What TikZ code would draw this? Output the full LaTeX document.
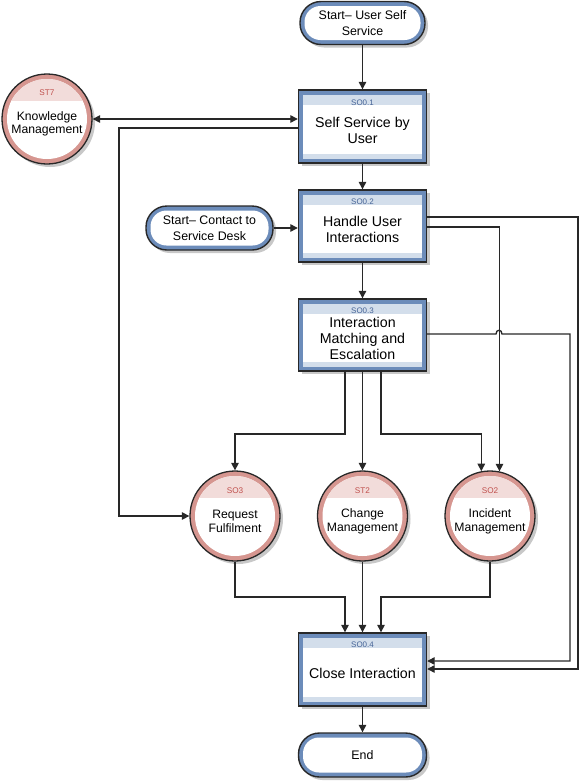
\documentclass[tikz,border=0pt]{standalone}
\usepackage{fontspec}
\setmainfont{Liberation Sans}
\usetikzlibrary{shadows,arrows.meta}
\definecolor{frameblue}{RGB}{108,140,186}
\definecolor{hdrblue}{RGB}{211,222,235}
\definecolor{lblblue}{RGB}{70,100,150}
\definecolor{ringpink}{RGB}{214,150,144}
\definecolor{hdrpink}{RGB}{242,220,218}
\definecolor{lblred}{RGB}{192,80,77}
\definecolor{linedark}{RGB}{40,40,40}
\definecolor{shadowgrey}{RGB}{200,200,200}
\tikzset{
  shd/.style={drop shadow={shadow xshift=3pt,shadow yshift=-3pt,fill=shadowgrey,opacity=1}},
  procbox/.style={rectangle, draw=linedark, line width=1.4pt, fill=frameblue,
    minimum width=128pt, minimum height=72pt, inner sep=0pt, shd,
    path picture={
      \fill[white] ([shift={(4.5pt,4.5pt)}]path picture bounding box.south west) rectangle ([shift={(-4.5pt,-4.5pt)}]path picture bounding box.north east);
      \fill[hdrblue] ([shift={(4.5pt,-4.5pt)}]path picture bounding box.north west) rectangle ([shift={(-4.5pt,-15pt)}]path picture bounding box.north east);
      \fill[hdrblue] ([shift={(4.5pt,4.5pt)}]path picture bounding box.south west) rectangle ([shift={(-4.5pt,9pt)}]path picture bounding box.south east);
    }},
  circ/.style={circle, draw=linedark, line width=1.3pt, fill=ringpink,
    minimum size=90pt, inner sep=0pt, shd,
    path picture={
      \fill[white] (path picture bounding box.center) circle[radius=40pt];
      \begin{scope}
        \clip (path picture bounding box.center) circle[radius=40pt];
        \fill[hdrpink] ([shift={(-50pt,18pt)}]path picture bounding box.center) rectangle ([shift={(50pt,50pt)}]path picture bounding box.center);
      \end{scope}
    }},
  term/.style={rectangle, rounded corners=21pt, draw=linedark, line width=1.4pt, fill=frameblue,
    minimum width=127pt, minimum height=44pt, inner sep=0pt, align=center,
    font=\fontsize{12.4}{15.5}\selectfont, shd,
    path picture={
      \fill[white, rounded corners=16pt] ([shift={(4.5pt,4.5pt)}]path picture bounding box.south west) rectangle ([shift={(-4.5pt,-4.5pt)}]path picture bounding box.north east);
    }},
  boxtext/.style={align=center, font=\fontsize{14.2}{16}\selectfont, inner sep=0pt},
  circtext/.style={align=center, font=\fontsize{12.2}{13.5}\selectfont, inner sep=0pt},
  boxlbl/.style={font=\fontsize{8}{9}\selectfont, text=lblblue, inner sep=0pt},
  circlbl/.style={font=\fontsize{8.2}{9}\selectfont, text=lblred, inner sep=0pt},
  arr/.style={draw=linedark, line width=1.3pt, -{Triangle[length=7.5pt,width=7.5pt]}},
  darr/.style={draw=linedark, line width=1.3pt, {Triangle[length=7.5pt,width=7.5pt]}-{Triangle[length=7.5pt,width=7.5pt]}}
}
\begin{document}
\begin{tikzpicture}[x=1pt,y=-1pt]
\useasboundingbox[fill=white] (0,0) rectangle (581,782);

% terminators
\node[term, minimum width=125pt, minimum height=43pt] (s1) at (362.5,23) {Start-- User Self\\Service};
\node[term] (s2) at (209.5,228) {Start-- Contact to\\Service Desk};
\node[term, minimum width=128pt] (end) at (362.5,755) {End};

% process boxes
\node[procbox, minimum height=73pt] (so01) at (362.5,126.5) {};
\node[boxlbl] (so01l) at (362.5,102.5) {SO0.1};
\node[boxtext] (so01t) at (362.5,130) {Self Service by\\User};

\node[procbox] (so02) at (362.5,226) {};
\node[boxlbl] (so02l) at (362.5,202) {SO0.2};
\node[boxtext] (so02t) at (362.5,229.5) {Handle User\\Interactions};

\node[procbox] (so03) at (362.5,335) {};
\node[boxlbl] (so03l) at (362.5,311) {SO0.3};
\node[boxtext] (so03t) at (362.5,338) {Interaction\\Matching and\\Escalation};

\node[procbox, minimum height=73pt] (so04) at (362.5,669.5) {};
\node[boxlbl] (so04l) at (362.5,645) {SO0.4};
\node[boxtext] (so04t) at (362.5,673) {Close Interaction};

% circles
\node[circ] (st7) at (47,119) {};
\node[circlbl] (st7l) at (47,93) {ST7};
\node[circtext] (st7t) at (47,124) {Knowledge\\Management};

\node[circ] (so3) at (235,516) {};
\node[circlbl] (so3l) at (235,491) {SO3};
\node[circtext] (so3t) at (235,521.5) {Request\\Fulfilment};

\node[circ] (st2) at (362.5,516) {};
\node[circlbl] (st2l) at (362.5,491) {ST2};
\node[circtext] (st2t) at (362.5,521.5) {Change\\Management};

\node[circ] (so2) at (490,516) {};
\node[circlbl] (so2l) at (490,491) {SO2};
\node[circtext] (so2t) at (490,521.5) {Incident\\Management};

% helper coordinates
\coordinate (k1) at (119,128);
\coordinate (r1) at (578,217);
\coordinate (r1b) at (578,669);
\coordinate (r2) at (499,227);
\coordinate (h1) at (496,334);
\coordinate (h1c) at (496,329);
\coordinate (h2c) at (502,329);
\coordinate (h2) at (502,334);
\coordinate (r3) at (570,334);
\coordinate (r3b) at (570,661);
\coordinate (b1) at (345,434);
\coordinate (b3) at (381,434);
\coordinate (m1) at (345,597);
\coordinate (m3) at (381,597);

% connectors
\draw[arr] (s1) -- (so01);
\draw[arr] (so01) -- (so02);
\draw[arr] (so02) -- (so03);
\draw[arr] (so04) -- (end);
\draw[arr] (s2) -- (s2 -| so02.west);
\draw[darr] (st7) -- (st7 -| so01.west);
\draw[arr] (so01.west |- k1) -- (k1) |- (so3);
\draw[arr] (so02.east |- r1) -- (r1) -- (r1b) -- (so04.east |- r1b);
\draw[arr] (so02.east |- r2) -| (so2.78.5);
\draw[arr] (so03.east |- h1) -- (h1) .. controls (h1c) and (h2c) .. (h2) -- (r3) -- (r3b) -- (so04.east |- r3b);
\draw[arr] (so03.south -| b1) -- (b1) -| (so3);
\draw[arr] (so03) -- (st2);
\draw[arr] (so03.south -| b3) -- (b3) -| (so2.101.5);
\draw[arr] (so3) |- (m1) -- (so04.north -| m1);
\draw[arr] (st2) -- (so04);
\draw[arr] (so2) |- (m3) -- (so04.north -| m3);
\end{tikzpicture}
\end{document}
